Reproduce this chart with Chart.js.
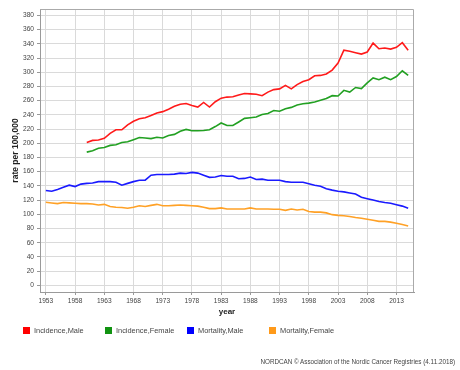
<!DOCTYPE html>
<html>
<head>
<meta charset="utf-8">
<script src="https://cdn.jsdelivr.net/npm/chart.js@4"></script>
<style>
  body { margin: 0; background: #fff; }
  #wrap { position: relative; width: 460px; height: 370px; font-family: "Liberation Sans", Arial, sans-serif; }
  #chart { position: absolute; left: 0; top: 0; }
  #legend { position: absolute; left: 23px; top: 326px; display: flex; }
  .item { width: 82px; display: flex; align-items: center; font-size: 7.4px; color: #444; white-space: nowrap; }
  .box { width: 7px; height: 7px; margin-right: 4px; }
  #footer { position: absolute; right: 5px; top: 358px; font-size: 6.3px; color: #444; white-space: nowrap; }
</style>
</head>
<body>
<div id="wrap">
  <canvas id="chart" width="460" height="370"></canvas>
  <div id="legend"></div>
  <div id="footer">NORDCAN © Association of the Nordic Cancer Registries (4.11.2018)</div>
</div>
<script>
// Data
const years = [1953, 1954, 1955, 1956, 1957, 1958, 1959, 1960, 1961, 1962, 1963, 1964, 1965, 1966, 1967, 1968, 1969, 1970,
  1971, 1972, 1973, 1974, 1975, 1976, 1977, 1978, 1979, 1980, 1981, 1982, 1983, 1984, 1985, 1986, 1987, 1988, 1989, 1990,
  1991, 1992, 1993, 1994, 1995, 1996, 1997, 1998, 1999, 2000, 2001, 2002, 2003, 2004, 2005, 2006, 2007, 2008, 2009, 2010,
  2011, 2012, 2013, 2014, 2015];

const incidenceMale = [null, null, null, null, null, null, null,
  201, 204, 204.5, 207, 214, 219, 219, 226, 231, 234.5, 236, 239, 242.5, 244.5, 248, 252, 255, 256, 253,
  251, 257.5, 251, 258.5, 263.5, 265, 265.5, 268, 270, 269.5, 269, 267, 272, 275.5, 276.5, 281.5, 276.5, 282.5, 287,
  289.5, 295, 295.5, 297.5, 303, 313, 331, 329.5, 327.5, 325.5, 328.5, 341, 333, 334, 332.5, 335, 341.5, 331];

const incidenceFemale = [null, null, null, null, null, null, null,
  187.5, 189.5, 193, 194, 197, 198, 201, 202, 205, 208, 207.5, 206.5, 208.5, 207.5, 211, 212.5, 217, 219.5, 217.5,
  217.5, 218, 219, 223.5, 228.5, 225, 225, 230, 235, 236, 237, 240.5, 242, 246, 245, 248.5, 250.5, 254, 255.5,
  256.5, 258, 260.5, 263, 267, 266.5, 274.5, 272, 278.5, 277, 285, 292, 289.5, 293, 289.5, 294, 302, 295.5];

const mortalityMale = [133.5, 132.5, 135, 138, 141, 139, 142.5, 143.5, 144, 146, 146, 146, 145, 141, 143.5, 146, 148, 148,
  155, 156, 156, 156, 156.5, 158, 157.5, 159, 158, 155, 152, 152.5, 154.5, 153.5, 153.5, 150, 150.5, 152.5, 149, 149.5,
  148, 148, 148, 146, 145, 145, 145, 143, 141, 139.5, 136, 134, 132.5, 131.5, 130, 128.5, 124, 122, 120, 118,
  116.5, 115.5, 113.5, 111.5, 108.5];

const mortalityFemale = [117, 116, 115, 116.5, 116, 115.5, 115, 115, 114.5, 113, 114, 111, 110, 109.5, 108.5, 110, 112, 111,
  112.5, 114, 112, 112, 112.5, 113, 112.5, 112, 111.5, 110, 108, 108, 109, 107.5, 107.5, 107.5, 107.5, 109, 107.5, 107.5,
  107.5, 107, 107, 105.5, 107.5, 106, 107, 104, 103, 103, 102, 99.5, 98.5, 98, 97, 95.5, 94.5, 93, 91.5, 90,
  90, 89, 87.5, 85.5, 83.5];

const seriesLabels = ['Incidence,Male', 'Incidence,Female', 'Mortality,Male', 'Mortality,Female'];
const seriesColors = ['#ff1a1a', '#22a022', '#1a1aff', '#ffa126'];
const legendColors = ['#ff0000', '#119311', '#0000ff', '#ff9a1a'];

const xTickLabels = [1953, 1958, 1963, 1968, 1973, 1978, 1983, 1988, 1993, 1998, 2003, 2008, 2013];
const yTickLabels = [0, 20, 40, 60, 80, 100, 120, 140, 160, 180, 200, 220, 240, 260, 280, 300, 320, 340, 360, 380];

const seriesData = [incidenceMale, incidenceFemale, mortalityMale, mortalityFemale];

// Frame around the plot area (top and right edges)
const frame = {
    id: 'frame',
    afterDraw(chart) {
        const { ctx, chartArea: a } = chart;
        ctx.save();
        ctx.strokeStyle = '#aaaaaa';
        ctx.lineWidth = 1;
        ctx.beginPath();
        ctx.moveTo(a.left, a.top + 0.5);
        ctx.lineTo(a.right - 0.5, a.top + 0.5);
        ctx.lineTo(a.right - 0.5, a.bottom);
        ctx.stroke();
        ctx.restore();
    }
};

const tickFont = { family: 'Liberation Sans', size: 6.6 };

new Chart(document.getElementById('chart'), {
    type: 'line',
    data: {
        labels: years,
        datasets: seriesData.map((d, i) => ({
            label: seriesLabels[i],
            data: d,
            borderColor: seriesColors[i],
            backgroundColor: seriesColors[i],
            borderWidth: 1.6,
            pointRadius: 0,
            tension: 0,
            spanGaps: false
        }))
    },
    options: {
        responsive: false,
        animation: false,
        layout: { padding: { left: 0, right: 46, top: 9, bottom: 48 } },
        plugins: {
            legend: { display: false },
            tooltip: { enabled: false }
        },
        scales: {
            x: {
                type: 'linear',
                min: 1952,
                max: 2016,
                afterBuildTicks: s => { s.ticks = xTickLabels.map(v => ({ value: v })); },
                afterFit: s => { s.height = 30; },
                ticks: { font: tickFont, color: '#444', padding: 2, maxRotation: 0, autoSkip: false,
                    callback: v => String(v) },
                grid: { color: '#dadada', lineWidth: 1, tickLength: 3, tickColor: '#999' },
                border: { color: '#9a9a9a' },
                title: { display: true, text: 'year', color: '#222',
                    font: { family: 'Liberation Sans', size: 8, weight: 'bold' }, padding: { top: 0, bottom: 5.5 } }
            },
            y: {
                min: -9.4,
                max: 389,
                afterBuildTicks: s => { s.ticks = yTickLabels.map(v => ({ value: v })); },
                afterFit: s => { s.width = 40; },
                ticks: { font: tickFont, color: '#444', padding: 3 },
                grid: { color: '#dadada', lineWidth: 1, tickLength: 3, tickColor: '#999' },
                border: { color: '#9a9a9a' },
                title: { display: true, text: 'rate per 100,000', color: '#222',
                    font: { family: 'Liberation Sans', size: 8.5, weight: 'bold' }, padding: { top: 11, bottom: 0 } }
            }
        }
    },
    plugins: [frame]
});

// HTML legend
const legend = document.getElementById('legend');
legend.innerHTML = seriesLabels.map((name, i) => `
    <div class="item"><span class="box" style="background:${legendColors[i]}"></span>${name}</div>
`).join('');
</script>
</body>
</html>
